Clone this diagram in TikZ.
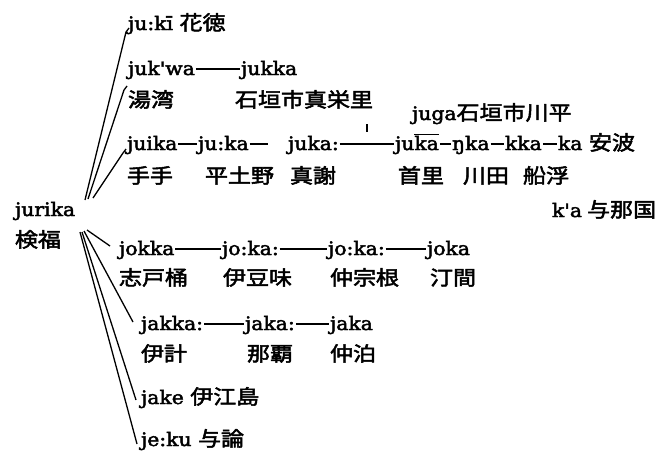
\documentclass[tikz,border=0pt]{standalone}
\usepackage{fontspec}
\setmainfont[FakeStretch=1.1,FakeBold=2.5,Ligatures=TeXOff]{DejaVu Serif}
\newfontfamily\cjfont[FakeStretch=1.15,FakeBold=2.5]{Noto Sans CJK JP}
\newcommand\cj[1]{{\fontsize{20}{24}\cjfont #1}}
\newcommand\ovl[1]{\ensuremath{\overline{\hbox{#1}}}}
\begin{document}
\begin{tikzpicture}[x=1pt,y=-1pt,
  w/.style={anchor=base west,inner sep=0pt,outer sep=0pt,font=\fontsize{18.5}{22}\selectfont},
  branch/.style={line width=1.3pt,line join=round},
  link/.style={line width=1.2pt}]
\useasboundingbox (0,0) rectangle (664,455);
% words
\node[w] (jukii) at (128,30) {ju:kī \cj{花徳}};
\node[w] (jukwa) at (128,75) {juk'wa};
\node[w] (jukka) at (241,75) {jukka};
\node[w] (yuwan) at (128,107) {\cj{湯湾}};
\node[w] (maeza) at (235,107) {\cj{石垣市真栄里}};
\node[w] (juga) at (412,120) {juga\cj{石垣市川平}};
\node[w] (juika) at (127,150) {juika};
\node[w] (juka1) at (198,150) {ju:ka};
\coordinate (d1) at (268,144);
\node[w] (juka2) at (288,150) {juka:};
\node[w] (juka3) at (395,150) {ju\ovl{ka}};
\node[w] (nka) at (452,150) {ŋka};
\node[w] (kka) at (505,150) {kka};
\node[w] (ka) at (558,150) {ka \cj{安波}};
\node[w] (tete) at (127,183) {\cj{手手}};
\node[w] (hetono) at (205,183) {\cj{平土野}};
\node[w] (majaku) at (290,183) {\cj{真謝}};
\node[w] (shuri) at (398,183) {\cj{首里}};
\node[w] (kawata) at (463,183) {\cj{川田}};
\node[w] (funauki) at (523,183) {\cj{船浮}};
\node[w] (kha) at (552,217) {k'a\hspace{5pt}\cj{与那国}};
\node[w] (jurika) at (15,216) {jurika};
\node[w] (kenpuku) at (15,247) {\cj{検福}};
\node[w] (jokka) at (119,255) {jokka};
\node[w] (joka1) at (222,255) {jo:ka:};
\node[w] (joka2) at (328,255) {jo:ka:};
\node[w] (joka3) at (427,255) {joka};
\node[w] (shitooke) at (119,285) {\cj{志戸桶}};
\node[w] (izumi) at (223,285) {\cj{伊豆味}};
\node[w] (nakasone) at (330,285) {\cj{仲宗根}};
\node[w] (tema) at (430,285) {\cj{汀間}};
\node[w] (jakka) at (141,330) {jakka:};
\node[w] (jaka1) at (245,330) {jaka:};
\node[w] (jaka2) at (330,330) {jaka};
\node[w] (ikei) at (141,361) {\cj{伊計}};
\node[w] (naha) at (247,361) {\cj{那覇}};
\node[w] (nakadomari) at (330,361) {\cj{仲泊}};
\node[w] (jake) at (141,404) {jake \cj{伊江島}};
\node[w] (jeku) at (141,446) {je:ku \cj{与論}};
% links between forms
\foreach \a/\b in {jukwa/jukka,juika/juka1,juka2/juka3,juka3/nka,nka/kka,kka/ka,
  jokka/joka1,joka1/joka2,joka2/joka3,jakka/jaka1,jaka1/jaka2}
  \draw[link] ([xshift=1pt,yshift=6pt]\a.base east) -- ([xshift=-1pt,yshift=6pt]\b.base west);
\draw[link] ([xshift=1pt,yshift=6pt]juka1.base east) -- (d1);
\draw[link] (367,124) -- (367,132);
% branches from jurika
\coordinate (o1) at (85,200);
\coordinate (o2) at (88,199);
\coordinate (o3) at (93,198);
\coordinate (o4) at (87,230);
\coordinate (o5) at (84,231);
\coordinate (o6) at (82,232);
\coordinate (o7) at (80,232);
\coordinate (e1) at (126,32);
\coordinate (f1) at (129,28);
\coordinate (e2) at (124,90);
\coordinate (f2) at (127,86);
\coordinate (e3) at (123,153);
\coordinate (f3) at (126,149);
\coordinate (e4) at (110,246);
\coordinate (e5) at (133,322);
\coordinate (e6) at (136,400);
\coordinate (e7) at (137,444);
\draw[branch] (o1) -- (e1) -- (f1);
\draw[branch] (o2) -- (e2) -- (f2);
\draw[branch] (o3) -- (e3) -- (f3);
\draw[branch] (o4) -- (e4);
\draw[branch] (o5) -- (e5);
\draw[branch] (o6) -- (e6);
\draw[branch] (o7) -- (e7);
\end{tikzpicture}
\end{document}
